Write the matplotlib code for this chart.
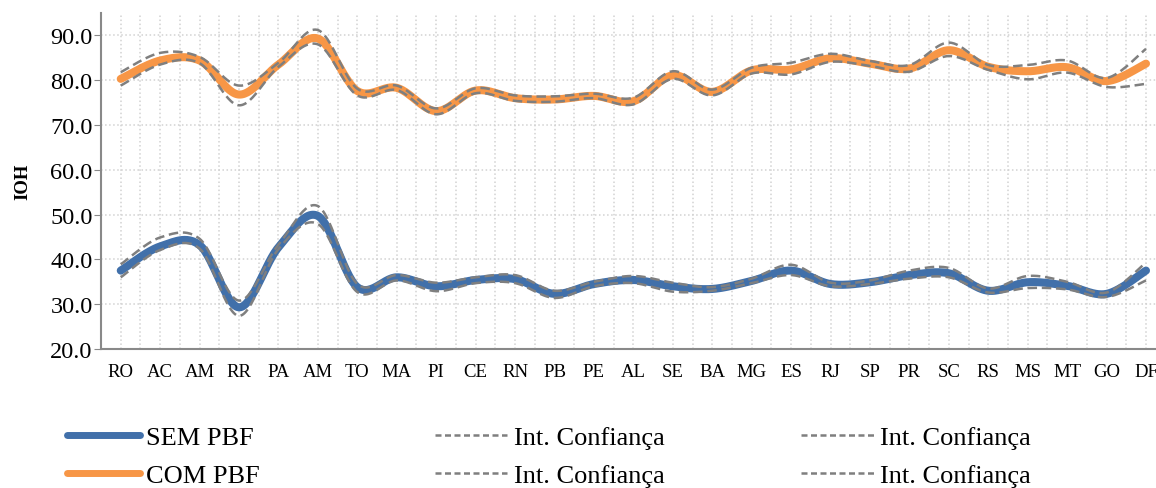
# IOH por UF - com e sem PBF, com intervalos de confiança

import numpy as np
import matplotlib
matplotlib.use('Agg')
import matplotlib.pyplot as plt
from matplotlib.lines import Line2D
from matplotlib.ticker import MultipleLocator, FormatStrFormatter

plt.rcParams['font.family'] = ['Liberation Serif', 'DejaVu Serif']

# Dados
ufs = ['RO', 'AC', 'AM', 'RR', 'PA', 'AM', 'TO', 'MA', 'PI', 'CE', 'RN', 'PB', 'PE', 'AL',
       'SE', 'BA', 'MG', 'ES', 'RJ', 'SP', 'PR', 'SC', 'RS', 'MS', 'MT', 'GO', 'DF']

sem_pbf = [37.5, 42.9, 43.2, 29.3, 42.7, 49.7, 33.8, 36.0, 34.0, 35.4, 35.6, 32.3, 34.5, 35.4,
           34.0, 33.4, 35.2, 37.5, 34.5, 34.9, 36.5, 36.9, 33.0, 34.9, 34.1, 32.3, 37.5]
sem_sup = [38.9, 44.9, 44.6, 30.8, 43.3, 51.9, 34.5, 36.5, 34.8, 36.0, 36.5, 33.0, 35.0, 36.3,
           34.8, 33.8, 35.7, 38.8, 34.8, 35.3, 37.5, 38.1, 33.5, 36.3, 35.0, 32.6, 39.3]
sem_inf = [36.0, 42.1, 42.4, 27.4, 42.3, 47.9, 32.7, 35.3, 32.9, 34.7, 34.7, 31.4, 34.0, 34.7,
           32.8, 33.0, 34.7, 36.5, 34.0, 34.5, 35.7, 36.0, 32.6, 33.6, 33.3, 31.6, 35.3]

com_pbf = [80.3, 84.4, 84.4, 76.8, 83.5, 89.3, 77.6, 78.3, 73.1, 77.7, 76.0, 75.7, 76.5, 75.3,
           81.1, 77.4, 82.2, 82.4, 84.9, 83.7, 82.6, 86.7, 83.0, 82.0, 82.9, 79.8, 83.7]
com_sup = [81.8, 86.1, 85.2, 78.8, 83.9, 91.2, 78.1, 78.8, 73.7, 78.2, 76.6, 76.4, 77.0, 76.1,
           82.0, 77.9, 82.8, 83.9, 85.9, 84.3, 83.4, 88.4, 83.4, 83.4, 84.4, 80.5, 87.0]
com_inf = [78.8, 83.5, 83.8, 74.4, 83.0, 88.0, 76.6, 77.8, 72.4, 77.1, 75.4, 75.2, 76.0, 74.6,
           80.3, 76.6, 81.5, 81.3, 84.1, 83.2, 81.9, 85.4, 82.3, 80.2, 81.7, 78.5, 79.2]

azul = '#4170AA'
laranja = '#F79646'
cinza = '#7F7F7F'


# Linha suavizada (Bezier tipo Catmull-Rom, como no Excel)
def suavizar(y, n=30):
    y = np.asarray(y, dtype=float)
    x = np.arange(len(y), dtype=float)
    xp = np.concatenate([[x[0]], x, [x[-1]]])
    yp = np.concatenate([[y[0]], y, [y[-1]]])
    t = np.linspace(0, 1, n)[:, None]
    xs, ys = [], []
    for i in range(len(y) - 1):
        p0, p1, p2, p3 = [np.array([xp[i + k], yp[i + k]]) for k in range(4)]
        b1 = p1 + (p2 - p0) / 6
        b2 = p2 - (p3 - p1) / 6
        pts = ((1 - t)**3) * p1 + 3 * ((1 - t)**2) * t * b1 + 3 * (1 - t) * t**2 * b2 + t**3 * p2
        xs.append(pts[:, 0])
        ys.append(pts[:, 1])
    return np.concatenate(xs), np.concatenate(ys)


fig = plt.figure(figsize=(11.56, 4.89), dpi=100)
ax = fig.add_axes([0.0874, 0.2843, 0.921, 0.687])

dash = dict(color=cinza, linewidth=1.8, linestyle=(0, (3.8, 1.9)), zorder=4)

ax.plot(*suavizar(sem_pbf), color=azul, linewidth=5.8, solid_capstyle='round', zorder=3)
ax.plot(*suavizar(sem_sup), **dash)
ax.plot(*suavizar(sem_inf), **dash)

ax.plot(*suavizar(com_pbf), color=laranja, linewidth=5.8, solid_capstyle='round', zorder=3)
ax.plot(*suavizar(com_sup), **dash)
ax.plot(*suavizar(com_inf), **dash)

# Eixos
ax.set_xlim(-0.5, len(ufs) - 0.5)
ax.set_ylim(20, 95)
ax.set_xticks(range(len(ufs)))
ax.set_xticklabels(ufs, fontsize=13.5)
ax.xaxis.set_minor_locator(MultipleLocator(0.5))
ax.set_yticks(np.arange(20, 91, 10))
ax.yaxis.set_major_formatter(FormatStrFormatter('%.1f'))
ax.tick_params(axis='y', labelsize=17.5, length=5, color='#898989', pad=1)
ax.tick_params(axis='x', which='both', length=0, pad=10)

ax.grid(True, axis='y', which='major', color='#D2D2D2', linestyle=':', linewidth=1.1)
ax.grid(True, axis='x', which='both', color='#D2D2D2', linestyle=':', linewidth=1.1)
ax.set_axisbelow(True)

for s in ['top', 'right']:
    ax.spines[s].set_visible(False)
for s in ['left', 'bottom']:
    ax.spines[s].set_color('#898989')
    ax.spines[s].set_linewidth(1.5)

ax.set_ylabel('IOH', fontsize=13.5, fontweight='bold', labelpad=14)

# Legenda em três blocos
h_sem = Line2D([], [], color=azul, linewidth=5, solid_capstyle='round')
h_com = Line2D([], [], color=laranja, linewidth=5, solid_capstyle='round')
h_ic = Line2D([], [], color=cinza, linewidth=1.8, linestyle=(0, (2.4, 1.4)))

leg_kw = dict(frameon=False, fontsize=19, handlelength=2.75, handletextpad=0.25,
              labelspacing=0.55, borderpad=0, loc='upper left')
fig.legend([h_sem, h_com], ['SEM PBF', 'COM PBF'], bbox_to_anchor=(0.0468, 0.154), **leg_kw)
fig.legend([h_ic, h_ic], ['Int. Confiança', 'Int. Confiança'], bbox_to_anchor=(0.3645, 0.154), **leg_kw)
fig.legend([h_ic, h_ic], ['Int. Confiança', 'Int. Confiança'], bbox_to_anchor=(0.6815, 0.154), **leg_kw)

fig.savefig('out.png', dpi=100)
